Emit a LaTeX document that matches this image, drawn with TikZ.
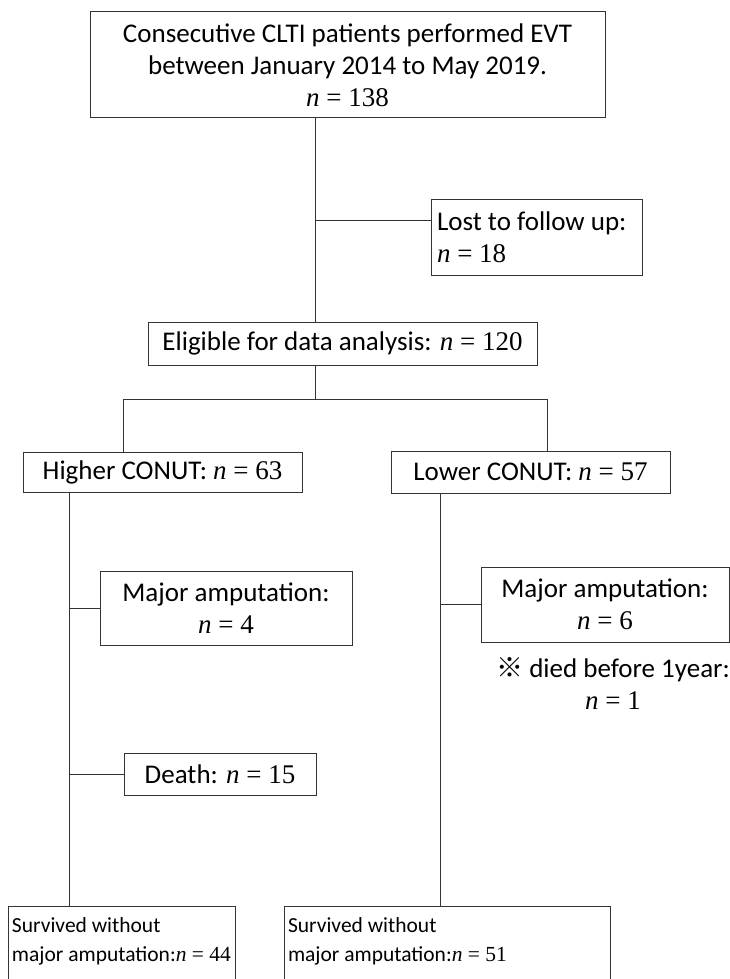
\documentclass[tikz,border=0pt]{standalone}
\usepackage{fontspec}
\setmainfont{Carlito}
\newfontfamily\tms{Liberation Serif}
\newfontfamily\cjk{Noto Sans CJK JP}
\newcommand{\nval}[1]{{\tms\textit{n} = #1}}
\begin{document}
\begin{tikzpicture}[x=1pt,y=-1pt,
    every node/.style={font=\fontsize{27}{32}\selectfont},
    box/.style={draw=black!80, line width=1pt, inner sep=5pt},
    endbox/.style={box, anchor=north, inner xsep=4pt, inner ysep=11pt, text depth=60,
      align=flush left, font=\fontsize{21.5}{29}\selectfont},
    link/.style={draw=black!80, line width=1pt}]
  \useasboundingbox (0,0) rectangle (730,979);
  % boxes
  \node[box, minimum width=515, minimum height=106, align=center] (cohort) at (347.5,65)
    {Consecutive CLTI patients performed EVT\\between January 2014 to May 2019.\\\nval{138}};
  \node[box, minimum width=211, minimum height=76, text width=199, align=flush left] (lost) at (536.5,237)
    {Lost to follow up:\\\nval{18}};
  \node[box, minimum width=389, minimum height=43] (elig) at (342.5,343.5)
    {Eligible for data analysis: \nval{120}};
  \node[box, minimum width=279, minimum height=40] (high) at (162.5,472)
    {Higher CONUT: \nval{63}};
  \node[box, minimum width=279, minimum height=42] (low) at (530.5,472)
    {Lower CONUT: \nval{57}};
  \node[box, minimum width=252, minimum height=74, align=center] (majL) at (226,608)
    {Major amputation:\\\nval{4}};
  \node[box, minimum width=248, minimum height=75, align=center] (majR) at (605,604.5)
    {Major amputation:\\\nval{6}};
  \node[align=center] (note) at (613,684) {{\cjk ※} died before 1year:\\\nval{1}};
  \node[box, minimum width=192, minimum height=42] (death) at (220,774)
    {Death: \nval{15}};
  \node[endbox, text width=219] (survL) at (121.5,906)
    {Survived without\\major amputation:\nval{44}};
  \node[endbox, text width=318] (survR) at (447,906)
    {Survived without\\major amputation:\nval{51}};
  % joins
  \coordinate (trunk) at (315,0);
  \coordinate (lostjoin) at (315,220);
  \coordinate (fork) at (315,399);
  \coordinate (forkL) at (123,399);
  \coordinate (forkR) at (547,399);
  \coordinate (trunkL) at (69,0);
  \coordinate (trunkR) at (440,0);
  % connectors
  \draw[link] (trunk |- cohort.south) -- (trunk |- elig.north);
  \draw[link] (lostjoin) -- (lostjoin -| lost.west);
  \draw[link] (trunk |- elig.south) -- (fork);
  \draw[link] (forkL |- high.north) -- (forkL) -- (forkR) -- (forkR |- low.north);
  \draw[link] (trunkL |- high.south) -- (trunkL |- survL.north);
  \draw[link] (trunkL |- majL.west) -- (majL.west);
  \draw[link] (trunkL |- death.west) -- (death.west);
  \draw[link] (trunkR |- low.south) -- (trunkR |- survR.north);
  \draw[link] (trunkR |- majR.west) -- (majR.west);
\end{tikzpicture}
\end{document}
